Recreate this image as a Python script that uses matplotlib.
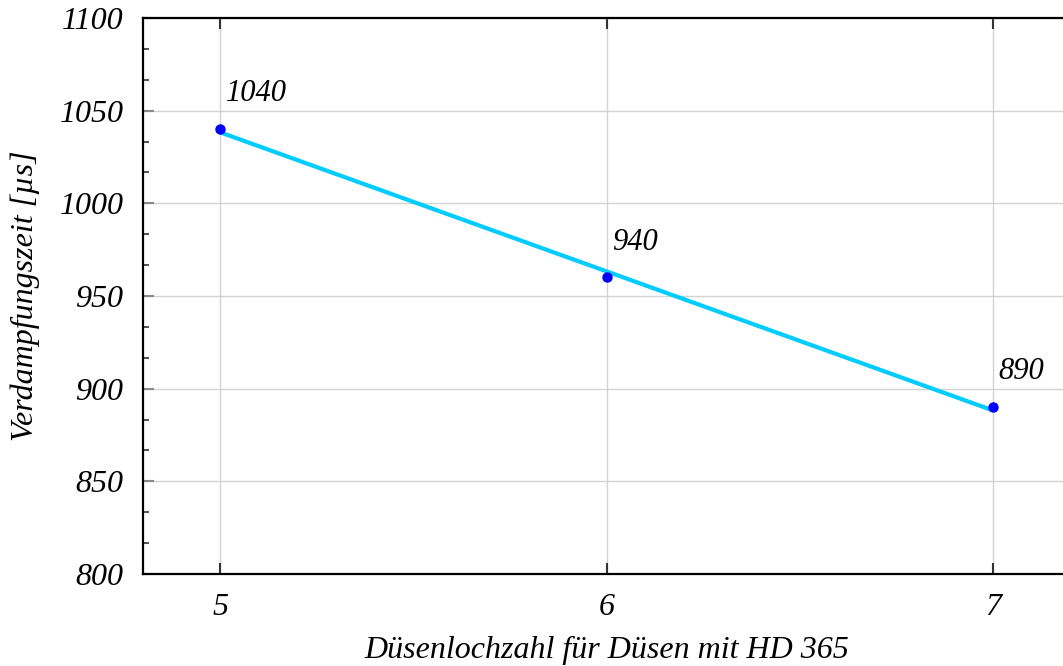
import matplotlib
matplotlib.use("Agg")
import matplotlib.pyplot as plt
from matplotlib.ticker import MultipleLocator, AutoMinorLocator

# data
nozzle_holes = [5, 6, 7]
evap_time = [1040, 960, 890]
point_labels = ["1040", "940", "890"]
trend_x = [5, 7]
trend_y = [1038.3, 888.3]

plt.rcParams['font.family'] = ['Liberation Serif', 'DejaVu Serif']

fig = plt.figure(figsize=(10.63, 6.66), dpi=100)
W, H = 1063, 666
left, right, top, bottom = 143, 1070, 18, 574
ax = fig.add_axes([left / W, 1 - bottom / H, (right - left) / W, (bottom - top) / H])

ax.plot(trend_x, trend_y, color='#00CCFF', lw=3.0, zorder=3, solid_capstyle='butt')
ax.plot(nozzle_holes, evap_time, 'o', color='#0000FF', ms=6.5, zorder=4, linestyle='none')

for x, y, t in zip(nozzle_holes, evap_time, point_labels):
    ax.annotate(t, (x, y), xytext=(4, 20), textcoords='offset points',
                fontsize=22, style='italic', ha='left', va='baseline')

ax.set_xlim(4.8, 7.2)
ax.set_ylim(800, 1100)
ax.set_xticks(nozzle_holes)
ax.set_xticklabels([str(v) for v in nozzle_holes])
ax.yaxis.set_major_locator(MultipleLocator(50))
ax.yaxis.set_minor_locator(AutoMinorLocator(3))

ax.grid(True, which='major', color='#d3d3d3', lw=1.0)
ax.set_axisbelow(True)

for s in ['left', 'bottom', 'top']:
    ax.spines[s].set_linewidth(1.6)
    ax.spines[s].set_color('black')
ax.spines['right'].set_visible(False)

ax.tick_params(axis='x', which='major', direction='in', length=8, width=1.5,
               color='#333333', top=True, bottom=True, pad=14, labelsize=23)
ax.tick_params(axis='y', which='major', direction='in', length=8, width=1.5,
               color='#888888', left=True, right=False, pad=14, labelsize=23)
ax.tick_params(axis='y', which='minor', direction='in', length=4, width=1.2,
               color='#333333', left=True, right=False)
for lab in ax.get_xticklabels() + ax.get_yticklabels():
    lab.set_style('italic')

ax.set_xlabel('Düsenlochzahl für Düsen mit HD 365', fontsize=23, style='italic', labelpad=10)
ax.set_ylabel('Verdampfungszeit [µs]', fontsize=23, style='italic', labelpad=14)

fig.savefig('out.png', dpi=100)
